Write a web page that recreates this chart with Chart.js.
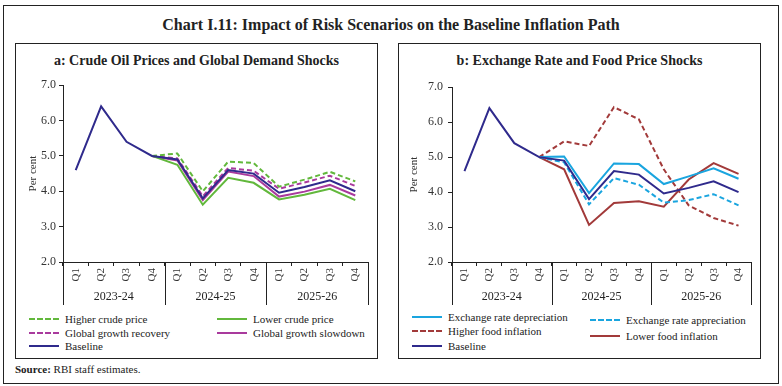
<!DOCTYPE html>
<html>
<head>
<meta charset="utf-8">
<script src="https://cdn.jsdelivr.net/npm/chart.js@4"></script>
<style>
  body { margin: 0; width: 782px; height: 386px; background: #fff; position: relative; overflow: hidden;
         font-family: "Liberation Serif", serif; color: #222; }
  .box { position: absolute; border: 1px solid #222; box-sizing: border-box; }
  .txt { position: absolute; white-space: nowrap; }
  canvas { position: absolute; }
  .leg { position: absolute; font-size: 11px; display: flex; align-items: center; white-space: nowrap; }
  .leg span.ln { display: inline-block; width: 30px; height: 0; margin-right: 6px; }
</style>
</head>
<body>
<div class="box" style="left:3px;top:5px;width:776px;height:379px"></div>
<div class="txt" style="left:0;width:782px;top:16px;text-align:center;font-size:16px;font-weight:bold">Chart I.11: Impact of Risk Scenarios on the Baseline Inflation Path</div>

<div class="box" style="left:15px;top:43px;width:363px;height:316px"></div>
<div class="txt" style="left:15px;width:363px;top:53px;text-align:center;font-size:14px;font-weight:bold">a: Crude Oil Prices and Global Demand Shocks</div>
<canvas id="chartA" width="362" height="235" style="left:15px;top:75px"></canvas>
<div id="legA"></div>

<div class="box" style="left:398px;top:43px;width:363px;height:316px"></div>
<div class="txt" style="left:398px;width:363px;top:53px;text-align:center;font-size:14px;font-weight:bold">b: Exchange Rate and Food Price Shocks</div>
<canvas id="chartB" width="362" height="235" style="left:398px;top:75px"></canvas>
<div id="legB"></div>

<div class="txt" style="left:15px;top:363px;font-size:11px"><b>Source:</b> RBI staff estimates.</div>

<script>
// categories
const quarters = ['Q1','Q2','Q3','Q4','Q1','Q2','Q3','Q4','Q1','Q2','Q3','Q4'];
const years = ['2023-24','2024-25','2025-26'];

// panel a
const baseline       = [4.6, 6.4, 5.4, 5.0, 4.9, 3.8, 4.6, 4.5, 3.96, 4.12, 4.31, 4.0];
const higherCrude    = [null, null, null, 5.0, 5.07, 4.0, 4.84, 4.8, 4.13, 4.33, 4.55, 4.28];
const lowerCrude     = [null, null, null, 5.0, 4.75, 3.62, 4.38, 4.24, 3.77, 3.9, 4.07, 3.75];
const growthRecovery = [null, null, null, 5.0, 4.93, 3.86, 4.66, 4.58, 4.07, 4.25, 4.44, 4.15];
const growthSlowdown = [null, null, null, 5.0, 4.87, 3.75, 4.56, 4.43, 3.85, 3.99, 4.18, 3.88];

// panel b
const erDepreciation = [null, null, null, 5.0, 5.02, 3.97, 4.82, 4.8, 4.23, 4.45, 4.68, 4.38];
const erAppreciation = [null, null, null, 5.0, 4.85, 3.65, 4.4, 4.21, 3.7, 3.77, 3.94, 3.62];
const higherFood     = [null, null, null, 5.0, 5.45, 5.32, 6.43, 6.08, 4.65, 3.62, 3.26, 3.04];
const lowerFood      = [null, null, null, 5.0, 4.65, 3.06, 3.69, 3.74, 3.58, 4.36, 4.83, 4.52];

const GREEN = '#62b83c', MAGENTA = '#a93a9d', NAVY = '#2f2a8c', SKY = '#1aa5df', RED = '#a23a3a';

const yearPlugin = {
  id: 'years',
  afterDraw(chart) {
    const x = chart.scales.x, ctx = chart.ctx, b = chart.chartArea.bottom;
    const step = x.getPixelForValue(1) - x.getPixelForValue(0);
    ctx.save();
    ctx.strokeStyle = '#222'; ctx.lineWidth = 1;
    ctx.fillStyle = '#222'; ctx.font = '12px "Liberation Serif"';
    ctx.textAlign = 'center'; ctx.textBaseline = 'middle';
    for (let g = 0; g <= years.length; g++) {
      const px = Math.round(x.getPixelForValue(g * 4) - step / 2) + 0.5;
      ctx.beginPath(); ctx.moveTo(px, b); ctx.lineTo(px, b + 43); ctx.stroke();
      if (g < years.length) ctx.fillText(years[g], x.getPixelForValue(g * 4) + step * 1.5, b + 35);
    }
    ctx.restore();
  }
};

function ds(label, data, color, dashed, order) {
  return { label, data, borderColor: color, backgroundColor: color, borderWidth: 2,
           borderDash: dashed ? [5, 3] : [], pointRadius: 0, tension: 0, order: order || 0 };
}

function makeChart(id, datasets, axisW, labelPad, titlePad) {
  return new Chart(document.getElementById(id), {
    type: 'line',
    data: { labels: quarters, datasets },
    options: {
      responsive: false, animation: false,
      layout: { padding: { top: 10, right: 9, left: 0, bottom: 0 } },
      plugins: { legend: { display: false }, tooltip: { enabled: false } },
      scales: {
        x: {
          offset: true,
          grid: { offset: true, drawOnChartArea: false, tickLength: 4, color: '#222' },
          border: { color: '#222' },
          ticks: { minRotation: 90, maxRotation: 90, padding: 2, color: '#333',
                   font: { family: 'Liberation Serif', size: 11 } },
          afterFit(s) { s.height = 48; }
        },
        y: {
          min: 2, max: 7,
          grid: { drawOnChartArea: false, tickLength: 4, color: '#222' },
          border: { color: '#222' },
          ticks: { stepSize: 1, padding: labelPad, color: '#333',
                   font: { family: 'Liberation Serif', size: 12 },
                   callback: v => v.toFixed(1) },
          title: { display: true, text: 'Per cent', color: '#333', padding: { top: titlePad, bottom: 0 },
                   font: { family: 'Liberation Serif', size: 11 } },
          afterFit(s) { s.width = axisW; }
        }
      }
    },
    plugins: [yearPlugin]
  });
}

const setsA = [
  ds('Higher crude price', higherCrude, GREEN, true),
  ds('Lower crude price', lowerCrude, GREEN, false),
  ds('Global growth recovery', growthRecovery, MAGENTA, true),
  ds('Global growth slowdown', growthSlowdown, MAGENTA, false),
  ds('Baseline', baseline, NAVY, false, -1)
];
const setsB = [
  ds('Exchange rate depreciation', erDepreciation, SKY, false),
  ds('Exchange rate appreciation', erAppreciation, SKY, true),
  ds('Higher food inflation', higherFood, RED, true),
  ds('Lower food inflation', lowerFood, RED, false),
  ds('Baseline', baseline, NAVY, false, -1)
];

makeChart('chartA', setsA, 48, 3, 12);
makeChart('chartB', setsB, 54, 5, 10);

// legends: [dataset index, left, top]
function legend(el, sets, spots) {
  const host = document.getElementById(el);
  spots.forEach(([i, left, top]) => {
    const d = sets[i];
    const row = document.createElement('div');
    row.className = 'leg';
    row.style.left = left + 'px'; row.style.top = top + 'px';
    const ln = document.createElement('span');
    ln.className = 'ln';
    ln.style.borderTop = '2px ' + (d.borderDash.length ? 'dashed ' : 'solid ') + d.borderColor;
    row.appendChild(ln);
    row.appendChild(document.createTextNode(d.label));
    host.appendChild(row);
  });
}
legend('legA', setsA, [[0, 29, 313], [1, 217, 313], [2, 29, 327], [3, 217, 327], [4, 29, 340]]);
legend('legB', setsB, [[0, 412, 311], [1, 590, 314], [2, 412, 325], [3, 590, 330], [4, 412, 340]]);
</script>
</body>
</html>
